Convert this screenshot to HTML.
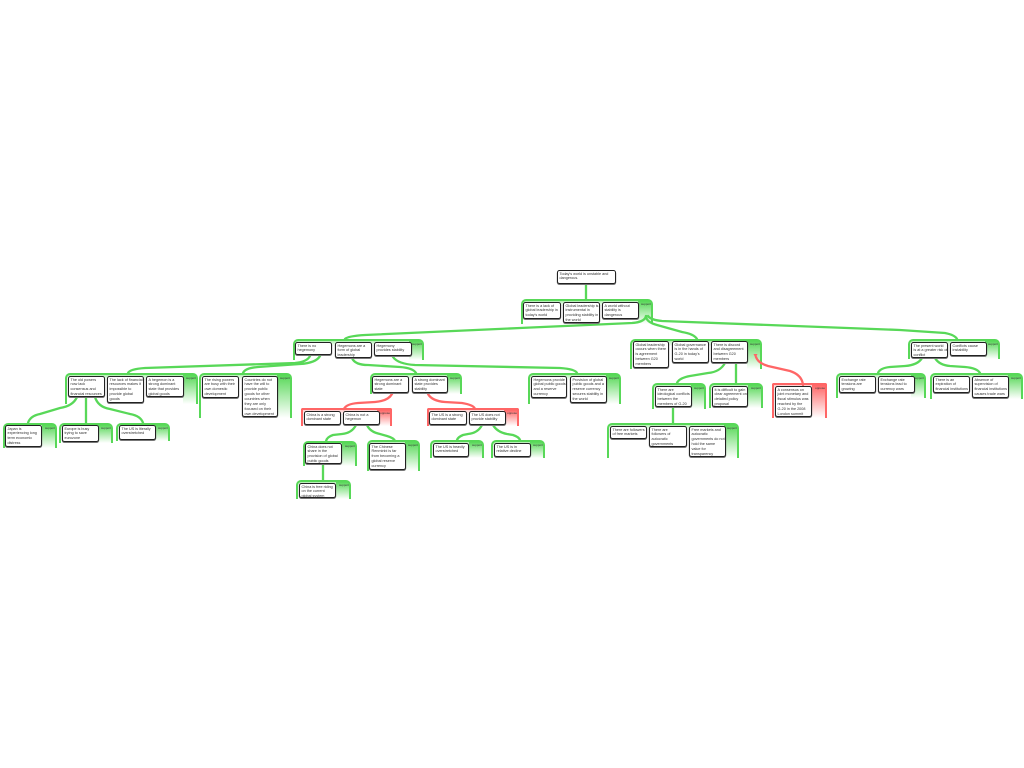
<!DOCTYPE html>
<html><head><meta charset="utf-8"><style>
html,body{margin:0;padding:0;background:#fff;width:1024px;height:768px;overflow:hidden}
body{position:relative;font-family:"Liberation Sans",sans-serif}
.g,.r,.b{position:absolute;box-sizing:border-box}
.g{border:2.2px solid #58d858;border-bottom:0;border-radius:5px 5px 0 0;background:linear-gradient(#58d858,#fff) right top/13px 100% no-repeat,linear-gradient(#b5efb5,#fff 5px)}
.r{border:2.2px solid #f66;border-bottom:0;border-radius:2px 2px 0 0;background:linear-gradient(#f66,#fff) right top/13px 100% no-repeat,linear-gradient(#fcc,#fff 5px)}
.g i,.r i{position:absolute;right:0;top:1px;font:normal 3px/4px "Liberation Sans",sans-serif;color:#333}
.b{background:#fff;border:1px solid #222;border-radius:2.5px;box-shadow:0 .8px 0 .2px #777;font-size:3.75px;line-height:4.85px;color:#333;padding:.6px 0 0 1.5px;white-space:nowrap}
svg{position:absolute;left:0;top:0}
</style></head><body>
<div class="g" style="left:521px;top:299px;width:132px;height:25px"><i>support</i></div>
<div class="g" style="left:630px;top:339px;width:132px;height:30px"><i>support</i></div>
<div class="g" style="left:652px;top:383px;width:54px;height:26px"><i>support</i></div>
<div class="g" style="left:709px;top:383px;width:54px;height:25px"><i>support</i></div>
<div class="r" style="left:772px;top:383px;width:55px;height:35px"><i>oppose</i></div>
<div class="g" style="left:607px;top:423px;width:132px;height:35px"><i>support</i></div>
<div class="g" style="left:908px;top:339px;width:92px;height:20px"><i>support</i></div>
<div class="g" style="left:836px;top:373px;width:90px;height:25px"><i>support</i></div>
<div class="g" style="left:930px;top:373px;width:93px;height:26px"><i>support</i></div>
<div class="g" style="left:293px;top:339px;width:131px;height:21px"><i>support</i></div>
<div class="g" style="left:65px;top:373px;width:133px;height:31px"><i>support</i></div>
<div class="g" style="left:3px;top:423px;width:54px;height:25px"><i>support</i></div>
<div class="g" style="left:59px;top:423px;width:54px;height:20px"><i>support</i></div>
<div class="g" style="left:116px;top:423px;width:54px;height:18px"><i>support</i></div>
<div class="g" style="left:199px;top:373px;width:93px;height:45px"><i>support</i></div>
<div class="g" style="left:370px;top:373px;width:92px;height:21px"><i>support</i></div>
<div class="g" style="left:528px;top:373px;width:93px;height:31px"><i>support</i></div>
<div class="r" style="left:301px;top:408px;width:91px;height:18px"><i>oppose</i></div>
<div class="r" style="left:427px;top:408px;width:92px;height:18px"><i>oppose</i></div>
<div class="g" style="left:303px;top:441px;width:54px;height:25px"><i>support</i></div>
<div class="g" style="left:367px;top:440px;width:53px;height:31px"><i>support</i></div>
<div class="g" style="left:296px;top:480px;width:55px;height:19px"><i>support</i></div>
<div class="g" style="left:430px;top:440px;width:54px;height:18px"><i>support</i></div>
<div class="g" style="left:491px;top:440px;width:54px;height:18px"><i>support</i></div>

<svg width="1024" height="768" viewBox="0 0 1024 768" fill="none" stroke="#58d858" stroke-width="2.3" stroke-linecap="round">
<path d="M586 284V299M323 464V480M86 397V423M736 363V383M673 407V423"/>
<path d="M646 316Q645 322 632 323L520 328L365 335Q348 336 345 339"/>
<path d="M646 316Q646 322 657 325L682 332Q694 334 697 339"/>
<path d="M648 316Q651 320 662 321L900 330L945 333Q955 335 957 339"/>
<path d="M310 356Q307 362 295 363L145 368Q130 369 128 373"/>
<path d="M320 356Q316 363 300 364L258 367Q245 368 243 373"/>
<path d="M352 358Q355 365 368 365L400 367Q413 368 416 373"/>
<path d="M393 357Q398 364 415 365L560 368Q575 369 577 373"/>
<path d="M77 397Q73 406 60 408L40 414Q30 416 28 423"/>
<path d="M95 397Q98 407 110 409L130 414Q141 416 143 423"/>
<path d="M356 425Q352 433 342 434L333 435Q327 437 326 441"/>
<path d="M367 425Q370 432 380 434L387 436Q394 438 395 441"/>
<path d="M482 425Q478 433 468 434L463 435Q458 437 457 440"/>
<path d="M493 425Q497 432 507 434L513 435Q519 437 520 440"/>
<path d="M725 363Q720 372 708 373L690 376Q679 378 677 383"/>
<path d="M922 358Q918 365 905 366L890 367Q880 368 878 373"/>
<path d="M935 358Q939 365 950 366L965 367Q977 368 980 373"/>
<g stroke="#f66">
<path d="M392 394Q388 401 375 402L358 403Q346 404 344 409"/>
<path d="M428 394Q432 401 445 402L462 403Q474 405 475 409"/>
<path d="M803 385Q802 375 790 371L768 366Q758 363 756 357"/>
</g>
<path d="M753.500 354H757.500L755.500 358Z" fill="#f66" stroke="none"/>
</svg>

<div class="b" style="left:557px;top:270px;width:59px;height:14px">Today's world is unstable and<br>dangerous.</div>
<div class="b" style="left:523px;top:302px;width:38px;height:17px">There is a lack of<br>global leadership in<br>today's world</div>
<div class="b" style="left:563px;top:302px;width:37px;height:21px">Global leadership is<br>instrumental in<br>providing stability in<br>the world</div>
<div class="b" style="left:602px;top:302px;width:37px;height:17px">A world without<br>stability is<br>dangerous</div>
<div class="b" style="left:633px;top:341px;width:36px;height:27px">Global leadership<br>occurs when there<br>is agreement<br>between G20<br>members</div>
<div class="b" style="left:672px;top:341px;width:37px;height:22px">Global governance<br>is in the hands of<br>G-20 in today's<br>world</div>
<div class="b" style="left:711px;top:341px;width:37px;height:22px">There is discord<br>and disagreement<br>between G20<br>members</div>
<div class="b" style="left:655px;top:386px;width:37px;height:21px">There are<br>ideological conflicts<br>between the<br>members of G-20</div>
<div class="b" style="left:712px;top:386px;width:36px;height:21px">It is difficult to gain<br>clear agreement on<br>detailed policy<br>proposal</div>
<div class="b" style="left:775px;top:386px;width:37px;height:31px">A consensus on<br>joint monetary and<br>fiscal stimulus was<br>reached by the<br>G-20 in the 2008<br>London summit</div>
<div class="b" style="left:610px;top:426px;width:37px;height:13px">There are followers<br>of free markets</div>
<div class="b" style="left:649px;top:426px;width:38px;height:21px">There are<br>followers of<br>autocratic<br>governments</div>
<div class="b" style="left:689px;top:426px;width:37px;height:31px">Free markets and<br>autocratic<br>governments do not<br>hold the same<br>value for<br>transparency</div>
<div class="b" style="left:911px;top:342px;width:37px;height:16px">The present world<br>is at a greater risk of<br>conflict</div>
<div class="b" style="left:950px;top:342px;width:37px;height:14px">Conflicts cause<br>instability</div>
<div class="b" style="left:839px;top:376px;width:37px;height:17px">Exchange rate<br>tensions are<br>growing</div>
<div class="b" style="left:878px;top:376px;width:37px;height:17px">Exchange rate<br>tensions lead to<br>currency wars</div>
<div class="b" style="left:933px;top:376px;width:37px;height:17px">There is an<br>expiration of<br>financial institutions</div>
<div class="b" style="left:972px;top:376px;width:37px;height:22px">Absence of<br>supervision of<br>financial institutions<br>causes trade wars</div>
<div class="b" style="left:295px;top:342px;width:37px;height:13px">There is no<br>hegemony</div>
<div class="b" style="left:335px;top:342px;width:37px;height:16px">Hegemons are a<br>form of global<br>leadership</div>
<div class="b" style="left:374px;top:342px;width:38px;height:14px">Hegemony<br>provides stability</div>
<div class="b" style="left:68px;top:376px;width:37px;height:21px">The old powers<br>now lack<br>consensus and<br>financial resources</div>
<div class="b" style="left:107px;top:376px;width:37px;height:27px">The lack of financial<br>resources makes it<br>impossible to<br>provide global<br>goods</div>
<div class="b" style="left:146px;top:376px;width:38px;height:21px">A hegemon is a<br>strong dominant<br>state that provides<br>global goods</div>
<div class="b" style="left:5px;top:425px;width:37px;height:22px">Japan is<br>experiencing long<br>term economic<br>distress</div>
<div class="b" style="left:62px;top:425px;width:37px;height:17px">Europe is busy<br>trying to save<br>eurozone</div>
<div class="b" style="left:119px;top:425px;width:37px;height:15px">The US is literally<br>overstretched</div>
<div class="b" style="left:202px;top:376px;width:37px;height:22px">The rising powers<br>are busy with their<br>own domestic<br>development</div>
<div class="b" style="left:242px;top:376px;width:36px;height:41px">Countries do not<br>have the will to<br>provide public<br>goods for other<br>countries when<br>they are only<br>focused on their<br>own development</div>
<div class="b" style="left:372px;top:376px;width:37px;height:17px">Hegemons are a<br>strong dominant<br>state</div>
<div class="b" style="left:412px;top:376px;width:36px;height:17px">A strong dominant<br>state provides<br>stability</div>
<div class="b" style="left:531px;top:376px;width:36px;height:22px">Hegemons provide<br>global public goods<br>and a reserve<br>currency</div>
<div class="b" style="left:570px;top:376px;width:37px;height:27px">Provision of global<br>public goods and a<br>reserve currency<br>secures stability in<br>the world</div>
<div class="b" style="left:304px;top:411px;width:37px;height:14px">China is a strong<br>dominant state</div>
<div class="b" style="left:343px;top:411px;width:37px;height:14px">China is not a<br>hegemon</div>
<div class="b" style="left:305px;top:443px;width:37px;height:21px">China does not<br>share in the<br>provision of global<br>public goods</div>
<div class="b" style="left:369px;top:443px;width:37px;height:27px">The Chinese<br>Renminbi is far<br>from becoming a<br>global reserve<br>currency</div>
<div class="b" style="left:299px;top:483px;width:37px;height:15px">China is free riding<br>on the current<br>global system</div>
<div class="b" style="left:429px;top:411px;width:38px;height:14px">The US is a strong<br>dominant state</div>
<div class="b" style="left:469px;top:411px;width:37px;height:14px">The US does not<br>provide stability</div>
<div class="b" style="left:433px;top:443px;width:36px;height:14px">The US is heavily<br>overstretched</div>
<div class="b" style="left:494px;top:443px;width:37px;height:14px">The US is in<br>relative decline</div>
</body></html>
